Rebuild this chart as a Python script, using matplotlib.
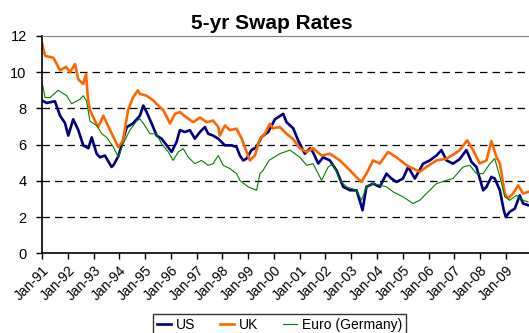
import matplotlib
matplotlib.use("Agg")
import matplotlib.pyplot as plt

plt.rcParams['font.family'] = ['Liberation Sans', 'DejaVu Sans']

# decimal years and rates (%)
us_t = [1991.01, 1991.18, 1991.50, 1991.70, 1991.89, 1992.02, 1992.21, 1992.41, 1992.60, 1992.80,
        1992.93, 1993.12, 1993.25, 1993.44, 1993.70, 1993.77, 1993.96, 1994.29, 1994.53, 1994.80,
        1994.93, 1995.06, 1995.26, 1995.45, 1995.64, 1995.84, 1996.03, 1996.22, 1996.35, 1996.55,
        1996.74, 1996.93, 1997.13, 1997.32, 1997.45, 1997.64, 1997.84, 1998.10, 1998.36, 1998.55,
        1998.68, 1998.81, 1998.94, 1999.13, 1999.33, 1999.52, 1999.78,
        2000.04, 2000.36, 2000.49, 2000.75, 2000.94, 2001.20, 2001.40, 2001.51, 2001.72, 2001.91,
        2002.17, 2002.43, 2002.69, 2002.95, 2003.21, 2003.44, 2003.59, 2003.85, 2004.11, 2004.37,
        2004.56, 2004.76, 2005.01, 2005.21, 2005.47, 2005.79, 2006.05, 2006.31, 2006.50, 2006.70,
        2006.95, 2007.21, 2007.47, 2007.67, 2007.86, 2008.12, 2008.25, 2008.44, 2008.57, 2008.77,
        2008.92, 2009.00, 2009.15, 2009.35, 2009.54, 2009.67, 2009.86]
us = [8.44, 8.3, 8.4, 7.6, 7.2, 6.5, 7.4, 6.8, 5.96, 5.8,
      6.4, 5.5, 5.3, 5.4, 4.77, 4.86, 5.35, 6.97, 7.17, 7.6,
      8.16, 7.8, 7.15, 6.5, 6.33, 5.96, 5.6, 6.14, 6.8, 6.7,
      6.8, 6.33, 6.7, 6.97, 6.6, 6.5, 6.33, 5.96, 5.96, 5.87,
      5.4, 5.13, 5.23, 5.7, 5.87, 6.42, 6.7,
      7.4, 7.7, 7.24, 6.9, 6.24, 5.5, 5.8, 5.6, 4.96, 5.3,
      5.13, 4.58, 3.67, 3.48, 3.48, 2.38, 3.67, 3.85, 3.67, 4.4,
      4.13, 3.94, 4.13, 4.77, 4.13, 4.95, 5.13, 5.4, 5.7, 5.13,
      4.95, 5.2, 5.7, 5.04, 4.77, 3.48, 3.67, 4.22, 4.13, 3.48,
      2.38, 2.0, 2.29, 2.47, 3.2, 2.75, 2.66]

uk_t = [1991.01, 1991.12, 1991.44, 1991.70, 1991.93, 1992.09, 1992.28, 1992.41, 1992.60, 1992.71,
        1992.78, 1992.86, 1993.06, 1993.18, 1993.38, 1993.64, 1993.96, 1994.14, 1994.34, 1994.53,
        1994.72, 1994.80, 1995.06, 1995.32, 1995.51, 1995.71, 1995.97, 1996.16, 1996.35, 1996.61,
        1996.87, 1997.13, 1997.39, 1997.64, 1997.84, 1997.90, 1998.10, 1998.29, 1998.55, 1998.75,
        1998.94, 1999.07, 1999.26, 1999.46, 1999.65, 1999.84,
        1999.97, 2000.23, 2000.49, 2000.75, 2001.01, 2001.27, 2001.52, 2001.85, 2002.17, 2002.56,
        2002.95, 2003.21, 2003.40, 2003.59, 2003.85, 2004.11, 2004.43, 2004.76, 2005.15, 2005.40,
        2005.66, 2005.92, 2006.31, 2006.70, 2007.02, 2007.21, 2007.50, 2007.73, 2007.99, 2008.25,
        2008.44, 2008.64, 2008.77, 2008.96, 2009.09, 2009.28, 2009.48, 2009.67, 2009.86]
uk = [11.56, 10.9, 10.8, 10.1, 10.3, 10.0, 10.45, 9.6, 9.35, 9.9,
      8.6, 7.9, 7.3, 6.97, 7.6, 6.8, 5.87, 6.2, 7.9, 8.6,
      9.0, 8.8, 8.7, 8.44, 8.16, 7.9, 7.17, 7.7, 7.8, 7.5,
      7.24, 7.5, 7.24, 7.33, 6.97, 6.5, 7.06, 6.8, 6.88, 6.33,
      5.6, 5.13, 5.4, 6.33, 6.6, 7.15,
      6.9, 6.97, 6.6, 6.3, 5.8, 5.6, 5.8, 5.4, 5.5, 5.13,
      4.58, 4.2, 3.94, 4.4, 5.13, 4.96, 5.6, 5.3, 4.86, 4.68,
      4.5, 4.77, 5.13, 5.23, 5.5, 5.7, 6.24, 5.7, 4.96, 5.13,
      6.2, 5.3, 4.96, 3.3, 3.03, 3.3, 3.76, 3.3, 3.39]

eu_t = [1991.03, 1991.12, 1991.31, 1991.63, 1991.96, 1992.15, 1992.47, 1992.60, 1992.73, 1992.86,
        1993.12, 1993.32, 1993.51, 1993.77, 1993.96, 1994.15, 1994.41, 1994.67, 1994.80, 1994.99,
        1995.19, 1995.45, 1995.64, 1995.90, 1996.09, 1996.29, 1996.48, 1996.68, 1996.93, 1997.19,
        1997.45, 1997.64, 1997.84, 1998.03, 1998.29, 1998.55, 1998.68, 1998.75, 1999.00, 1999.33,
        1999.46, 1999.58, 1999.81, 2000.23, 2000.62, 2001.01,
        2001.27, 2001.52, 2001.85, 2002.11, 2002.30, 2002.56, 2002.82, 2003.21, 2003.40, 2003.59,
        2003.85, 2004.37, 2004.63, 2005.01, 2005.40, 2005.66, 2005.92, 2006.31, 2006.70, 2006.95,
        2007.34, 2007.60, 2007.86, 2008.12, 2008.38, 2008.57, 2008.77, 2008.96, 2009.15, 2009.41,
        2009.67, 2009.86]
eu = [9.26, 8.6, 8.6, 9.0, 8.7, 8.26, 8.5, 8.7, 8.4, 7.3,
      7.06, 6.6, 6.4, 5.87, 5.3, 6.05, 6.8, 7.3, 7.43, 7.06,
      6.6, 6.6, 6.05, 5.6, 5.13, 5.6, 5.78, 5.3, 4.95, 5.13,
      4.86, 4.95, 5.4, 4.86, 4.68, 4.4, 4.03, 3.94, 3.67, 3.48,
      4.4, 4.58, 5.13, 5.5, 5.7, 5.3,
      4.86, 4.95, 4.03, 4.77, 4.95, 4.03, 3.67, 3.48, 2.93, 3.67,
      3.85, 3.67, 3.39, 3.12, 2.75, 2.93, 3.3, 3.85, 4.03, 4.13,
      4.77, 4.86, 4.4, 4.4, 4.95, 5.23, 4.22, 3.12, 2.93, 3.2,
      2.93, 2.84]

years = list(range(1991, 2010))
year_labels = ["Jan-%02d" % (y % 100) for y in years]

fig = plt.figure(figsize=(5.29, 3.33), dpi=100)
ax = fig.add_axes([0.0794, 0.2393, 0.9206, 0.6526])

ax.plot(us_t, us, color='#000080', lw=1.9, label='US')
ax.plot(uk_t, uk, color='#FF6600', lw=1.9, label='UK')
ax.plot(eu_t, eu, color='#008000', lw=0.8, label='Euro (Germany)')

ax.set_xlim(1991, 2009.9)
ax.set_ylim(0, 12)
ax.set_yticks(range(0, 13, 2))
ax.set_xticks(years)
ax.set_xticklabels(year_labels, rotation=45, ha='right', rotation_mode='anchor')
ax.tick_params(axis='both', direction='out', length=4, width=1, color='black')
ax.tick_params(axis='y', pad=7, labelsize=10.5)
ax.tick_params(axis='x', pad=3, labelsize=10)

for y in range(2, 12, 2):
    ax.axhline(y, color='black', lw=0.9, ls=(0, (6, 4)), zorder=0)

ax.spines['right'].set_visible(False)
ax.spines['top'].set_color('#808080')
ax.spines['left'].set_linewidth(1.2)
ax.spines['bottom'].set_linewidth(1.2)

fig.text(0.513, 0.914, "5-yr Swap Rates", ha='center', va='baseline',
         fontsize=15, fontweight='bold')

leg = fig.legend(loc='center', bbox_to_anchor=(0.528, 0.025), ncol=3, frameon=True,
                 fontsize=10, handlelength=1.0, handletextpad=0.35, columnspacing=1.8,
                 borderpad=0.3, fancybox=False, edgecolor='black')
leg.get_frame().set_linewidth(1.0)

fig.savefig('out.png', dpi=100)
